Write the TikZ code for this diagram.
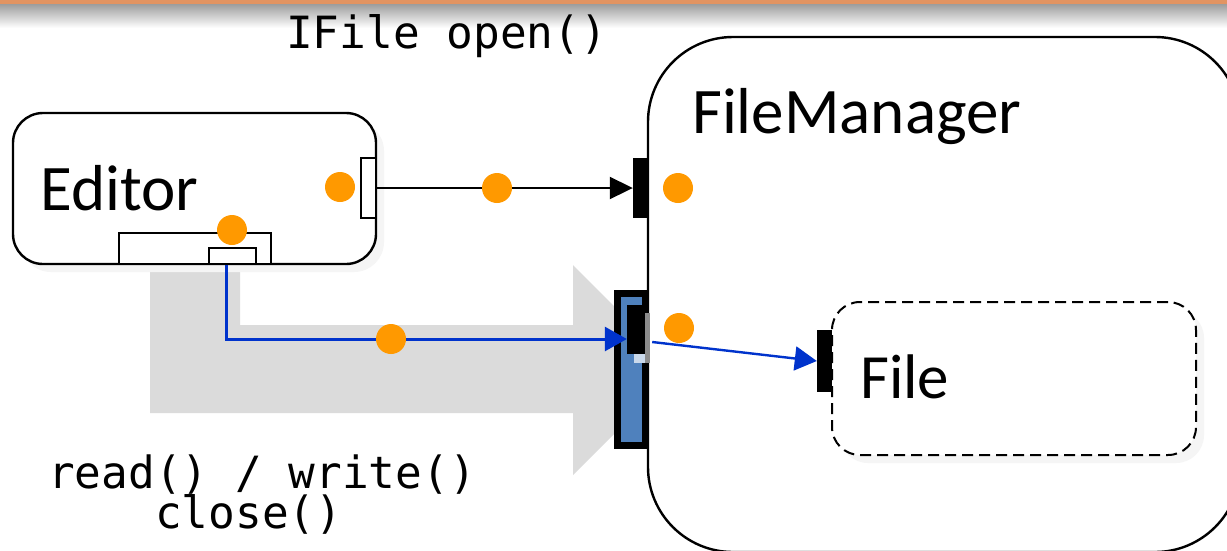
\documentclass[tikz,border=0pt]{standalone}
\usepackage{fontspec}
\setmainfont{Carlito}
\newfontfamily\codefont{DejaVu Sans Mono}
\usetikzlibrary{arrows.meta}

\definecolor{dotorange}{RGB}{255,153,0}
\definecolor{linkblue}{RGB}{0,51,204}
\definecolor{portblue}{RGB}{79,129,189}
\definecolor{flowgray}{RGB}{219,219,219}
\definecolor{barorange}{RGB}{226,148,98}
\definecolor{shadowgray}{RGB}{245,245,245}

\tikzset{
  compbox/.style={draw, line width=2.4pt, fill=white, inner sep=0pt},
  blackport/.style={fill=black, inner sep=0pt},
  whiteport/.style={draw, line width=1.8pt, fill=white, inner sep=0pt},
  dot/.style={circle, fill=dotorange, inner sep=0pt, minimum size=30pt},
  title/.style={inner sep=0pt, anchor=base west, font=\fontsize{65}{70}\selectfont},
  code/.style={inner sep=0pt, anchor=base west, font=\codefont\fontsize{44.4}{48}\selectfont},
  callarrow/.style={line width=2pt, -{Triangle[length=23pt,width=22pt]}},
  datalink/.style={draw=linkblue, line width=3pt, -{Triangle[length=22pt,width=24pt]}, color=linkblue},
}

\begin{document}
\begin{tikzpicture}[x=1pt,y=-1pt]
\useasboundingbox (0,0) rectangle (1227,550);
\clip (0,0) rectangle (1227,550);

% header strip
\fill[white] (0,0) rectangle (1227,550);
\shade[top color=black!40, bottom color=white] (0,3) rectangle (1227,28);
\fill[barorange] (0,0) rectangle (1227,4);

% data flow arrow behind the components
\fill[flowgray] (150,265) -- (240,265) -- (240,325) -- (573,325) -- (573,265)
  -- (678,370) -- (573,475) -- (573,413) -- (150,413) -- cycle;

% Editor component
\fill[shadowgray, rounded corners=30pt] (21,121) rectangle (384,272);
\node[compbox, rounded corners=30pt, minimum width=363pt, minimum height=151pt]
  (editor) at (194.5,188.5) {};

% FileManager component
\node[compbox, rounded corners=85pt, minimum width=592pt, minimum height=515pt]
  (fm) at (944,294.5) {};

% File component
\fill[shadowgray, rounded corners=28pt] (840,310) rectangle (1204,463);
\node[compbox, dashed, dash pattern=on 11pt off 6pt, line width=2pt,
  rounded corners=28pt, minimum width=364pt, minimum height=153pt]
  (file) at (1014,378.5) {};

% ports on Editor
\node[whiteport, minimum width=15pt, minimum height=60pt] (eport) at (368.5,188) {};
\node[whiteport, minimum width=152pt, minimum height=31pt] (ebus) at (195,248.5) {};
\node[whiteport, minimum width=47pt, minimum height=16pt] (eport2) at (232.5,256) {};

% ports on FileManager
\node[blackport, minimum width=15pt, minimum height=60pt] (fmport) at (640.5,188) {};
\node[draw=black, line width=7pt, fill=portblue, inner sep=0pt,
  minimum width=28pt, minimum height=152pt] (delegate) at (631.5,369.5) {};
\node[blackport, minimum width=19pt, minimum height=49pt] (inner) at (636.5,329.5) {};
\fill[black!45] (645,313) rectangle (650,363);
\fill[portblue!30] (634,354) rectangle (645,363);

% port on File
\node[blackport, minimum width=15pt, minimum height=62pt] (fport) at (824.5,361) {};

% connectors
\draw[callarrow] (eport.east) -- (fmport.west);
\draw[datalink] ([xshift=-6.5pt]eport2.south) |- ([yshift=-9.5pt]inner.west);
\draw[datalink, line width=2.4pt] ([xshift=6pt,yshift=-12.5pt]inner.east) -- (fport.west);

% dots
\node[dot] (d1) at (340,187) {};
\node[dot] (d2) at (232,230) {};
\node[dot] (d3) at (497,188) {};
\node[dot] (d4) at (678,188) {};
\node[dot] (d5) at (391,339) {};
\node[dot] (d6) at (679,328) {};

% labels
\node[title] (editorlbl) at (40,210) {Editor};
\node[title] (fmlbl) at (692,133) {FileManager};
\node[title, font=\fontsize{63}{68}\selectfont] (filelbl) at (860,398) {File};

\node[code] (openlbl) at (286,48) {IFile open()};
\node[code] (rwlbl) at (48,488) {read() / write()};
\node[code] (closelbl) at (155,528) {close()};
\end{tikzpicture}
\end{document}
